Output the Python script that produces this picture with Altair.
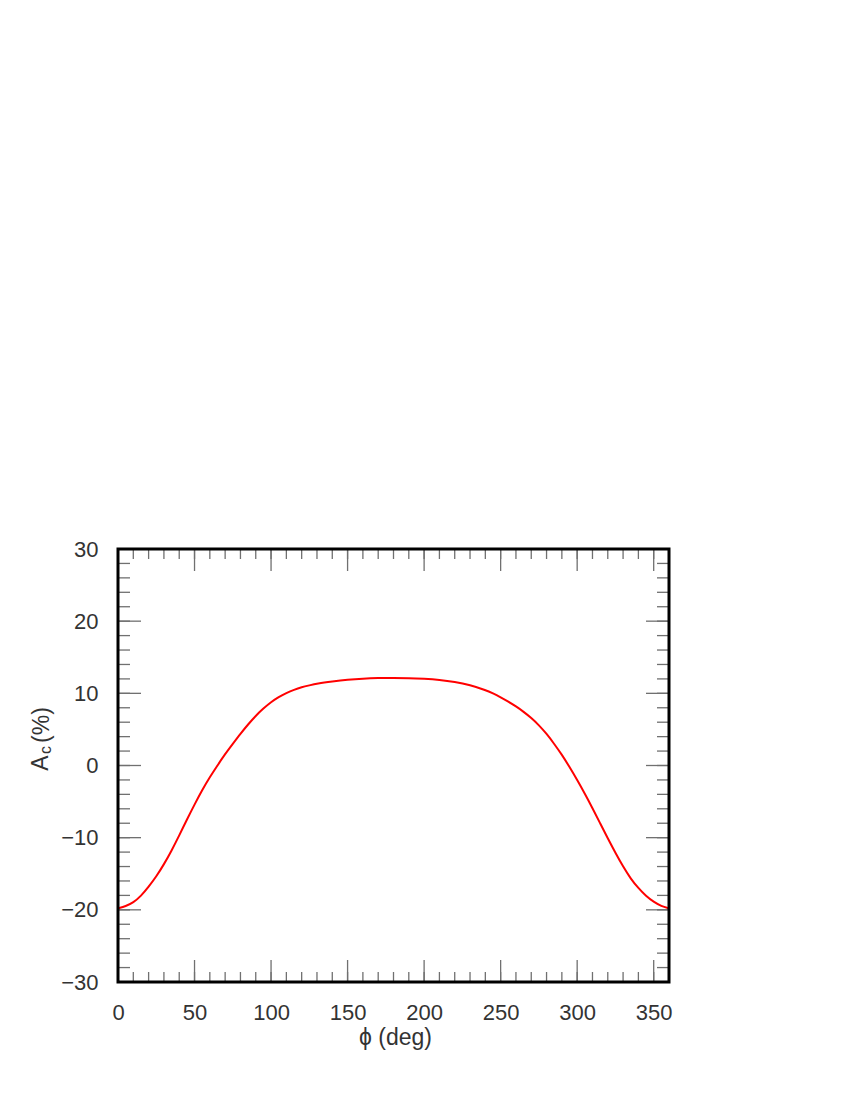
import altair as alt
import pandas as pd

# Curve
phi = [0, 5, 10, 15, 20, 25, 30, 35, 40, 45, 50, 55, 60, 65, 70, 75, 80, 85, 90, 95,
       100, 105, 110, 115, 120, 125, 130, 140, 150, 160, 170, 180, 190, 200, 210, 220,
       230, 240, 245, 250, 255, 260, 265, 270, 275, 280, 285, 290, 295, 300, 305, 310,
       315, 320, 325, 330, 335, 340, 345, 350, 355, 360]
asym = [-19.8, -19.5, -19.0, -18.1, -16.8, -15.4, -13.7, -11.8, -9.7, -7.5, -5.4, -3.4,
        -1.6, 0.0, 1.6, 3.0, 4.4, 5.7, 6.9, 7.9, 8.8, 9.5, 10.05, 10.5, 10.85, 11.1, 11.35,
        11.65, 11.9, 12.05, 12.12, 12.14, 12.12, 12.02, 11.88, 11.6, 11.15, 10.45, 10.0,
        9.45, 8.85, 8.2, 7.45, 6.6, 5.6, 4.4, 3.0, 1.5, -0.2, -2.0, -3.9, -5.9, -8.0, -10.1,
        -12.1, -14.0, -15.7, -17.0, -18.1, -18.9, -19.5, -19.8]

x_labels = [0, 50, 100, 150, 200, 250, 300, 350]
y_labels = [-30, -20, -10, 0, 10, 20, 30]
x_minor = list(range(0, 361, 10))
y_minor = list(range(-30, 31, 2))

W, H = 551, 433
FONT = "Liberation Sans"
TXT = "#333333"
TICK = "#707070"

df = pd.DataFrame({"phi": phi, "A": asym})
xs = alt.Scale(domain=[0, 360], nice=False, zero=False)
ys = alt.Scale(domain=[-30, 30], nice=False, zero=False)

xmaj = pd.DataFrame({"v": x_labels})
xmin = pd.DataFrame({"v": x_minor})
ymaj = pd.DataFrame({"v": y_labels})
ymin = pd.DataFrame({"v": y_minor})

def xticks(d, L):
    bottom = alt.Chart(d).mark_rule(color=TICK, strokeWidth=1.3).encode(
        x=alt.X("v:Q", scale=xs), y=alt.value(H), y2=alt.value(H - L))
    top = alt.Chart(d).mark_rule(color=TICK, strokeWidth=1.3).encode(
        x=alt.X("v:Q", scale=xs), y=alt.value(0), y2=alt.value(L))
    return bottom + top

def yticks(d, L):
    left = alt.Chart(d).mark_rule(color=TICK, strokeWidth=1.3).encode(
        y=alt.Y("v:Q", scale=ys), x=alt.value(0), x2=alt.value(L))
    right = alt.Chart(d).mark_rule(color=TICK, strokeWidth=1.3).encode(
        y=alt.Y("v:Q", scale=ys), x=alt.value(W), x2=alt.value(W - L))
    return left + right

line = alt.Chart(df).mark_line(color="#ff0000", strokeWidth=2, interpolate="basis").encode(
    x=alt.X("phi:Q", scale=xs,
            axis=alt.Axis(values=x_labels, ticks=False, domain=False, grid=False,
                          labelFlush=False, labelPadding=20, labelFontSize=22,
                          labelFont=FONT, labelColor=TXT, title="ϕ (deg)", titleFont=FONT,
                          titleFontSize=23, titleFontWeight="normal", titleColor=TXT,
                          titleX=277, titleY=62, titleAlign="center",
                          titleBaseline="alphabetic")),
    y=alt.Y("A:Q", scale=ys,
            axis=alt.Axis(values=y_labels, ticks=False, domain=False, grid=False,
                          labelFlush=False, labelPadding=20, labelFontSize=22,
                          labelFont=FONT, labelColor=TXT, title=None)),
)

frame = alt.Chart(pd.DataFrame({"t": [0]})).mark_rect(
    fill=None, stroke="black", strokeWidth=3).encode(
    x=alt.value(0), x2=alt.value(W), y=alt.value(0), y2=alt.value(H))

def label(t, x, y, size):
    return alt.Chart(pd.DataFrame({"t": [t]})).mark_text(
        angle=270, align="center", baseline="middle", font=FONT, fontSize=size,
        color=TXT).encode(text="t:N", x=alt.value(x), y=alt.value(y))

ytitle = label("A", -77, 214, 23) + label("c", -72, 201, 16) + label("(%)", -76, 176, 23)

chart = alt.layer(
    xticks(xmin, 10), xticks(xmaj, 22), yticks(ymin, 12), yticks(ymaj, 23),
    line, frame, ytitle
).properties(
    width=W, height=H,
    autosize=alt.AutoSizeParams(type="none"),
    padding={"left": 110, "top": 541, "right": 40, "bottom": 80},
).configure_view(stroke=None).configure(background="white")

chart.save("out.html", embed_options={"renderer": "svg", "actions": False})
